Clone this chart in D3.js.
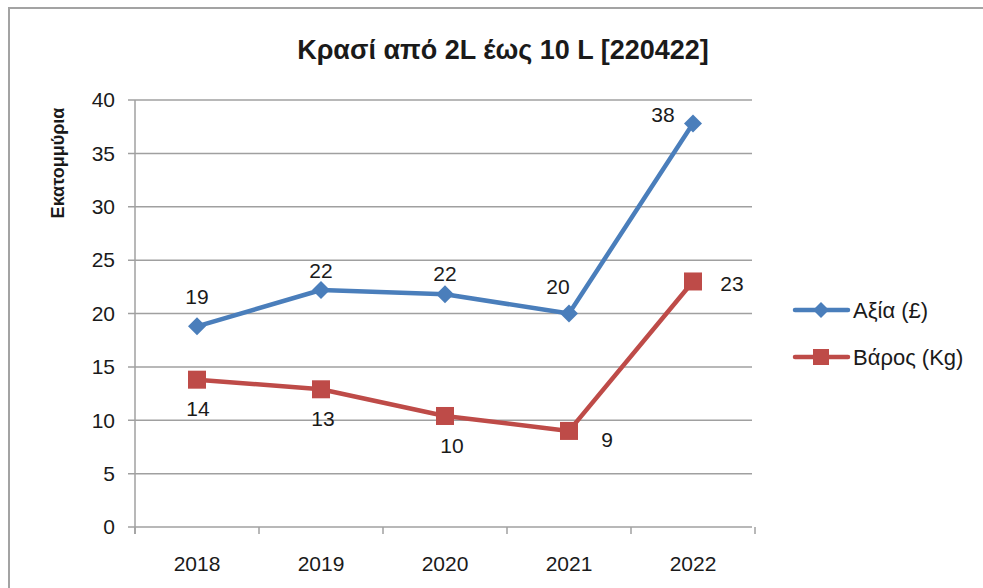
<!DOCTYPE html>
<html>
<head>
<meta charset="utf-8">
<script src="https://cdn.jsdelivr.net/npm/d3@7/dist/d3.min.js"></script>
<style>
  html, body { margin: 0; padding: 0; background: #fff; }
  svg { display: block; }
  text { font-family: "Liberation Sans", Arial, sans-serif; fill: #1a1a1a; }
</style>
</head>
<body>
<svg id="chart" width="983" height="588"></svg>
<script>
const title = "Κρασί από 2L έως 10 L [220422]";
const yAxisTitle = "Εκατομμύρια";
const categories = ["2018", "2019", "2020", "2021", "2022"];
const seriesNames = ["Αξία (£)", "Βάρος (Kg)"];
const valueSeries = [18.8, 22.2, 21.8, 20.0, 37.8];
const weightSeries = [13.8, 12.9, 10.4, 9.0, 23.0];
const valueLabels = ["19", "22", "22", "20", "38"];
const weightLabels = ["14", "13", "10", "9", "23"];
const yTicks = [0, 5, 10, 15, 20, 25, 30, 35, 40];

const colors = ["#4a7ebb", "#be4b48"];
const svg = d3.select("#chart");

// outer border (top & left visible)
svg.append("path")
  .attr("d", "M9,588 L9,8 L983,8")
  .attr("fill", "none").attr("stroke", "#a3a3a3").attr("stroke-width", 2);

const pLeft = 135, pRight = 755, pTop = 100, pBottom = 527;
const x = d3.scaleBand().domain(categories).range([pLeft, pRight]).padding(0);
const y = d3.scaleLinear().domain([0, 40]).range([pBottom, pTop]);

// gridlines
svg.append("g").selectAll("line").data(yTicks).join("line")
  .attr("x1", pLeft - 7).attr("x2", pRight - 3)
  .attr("y1", d => y(d)).attr("y2", d => y(d))
  .attr("stroke", "#a0a0a0").attr("stroke-width", 1.5);

// y axis line
svg.append("line").attr("x1", pLeft).attr("x2", pLeft)
  .attr("y1", pTop).attr("y2", pBottom + 7)
  .attr("stroke", "#a0a0a0").attr("stroke-width", 1.5);

// x tick marks
const xb = categories.map(c => x(c)).concat([pRight]);
svg.append("g").selectAll("line").data(xb).join("line")
  .attr("x1", d => d).attr("x2", d => d)
  .attr("y1", pBottom).attr("y2", pBottom + 7)
  .attr("stroke", "#a0a0a0").attr("stroke-width", 1.5);

// y tick labels
svg.append("g").selectAll("text").data(yTicks).join("text")
  .attr("x", 115).attr("y", d => y(d)).attr("dy", "0.35em")
  .attr("text-anchor", "end").attr("font-size", 21)
  .text(d => d);

// x tick labels
svg.append("g").selectAll("text").data(categories).join("text")
  .attr("x", d => x(d) + x.bandwidth() / 2).attr("y", 564).attr("dy", "0.35em")
  .attr("text-anchor", "middle").attr("font-size", 21)
  .text(d => d);

// title
svg.append("text").attr("x", 503).attr("y", 50).attr("dy", "0.35em")
  .attr("text-anchor", "middle").attr("font-size", 27).attr("font-weight", "bold")
  .text(title);

// y axis title
svg.append("text")
  .attr("transform", "translate(58,163) rotate(-90)")
  .attr("dy", "0.35em").attr("text-anchor", "middle")
  .attr("font-size", 18).attr("font-weight", "bold")
  .text(yAxisTitle);

const cx = c => x(c) + x.bandwidth() / 2;
const line = d3.line().x((d, i) => cx(categories[i])).y(d => y(d));
const diamondPath = "M0,-9 L9,0 L0,9 L-9,0 Z";

// series 1: value
svg.append("path").datum(valueSeries).attr("d", line)
  .attr("fill", "none").attr("stroke", colors[0]).attr("stroke-width", 4.5)
  .attr("stroke-linejoin", "round");
svg.append("g").selectAll("path").data(valueSeries).join("path")
  .attr("d", diamondPath)
  .attr("transform", (d, i) => `translate(${cx(categories[i])},${y(d)})`)
  .attr("fill", colors[0]);

// series 2: weight
svg.append("path").datum(weightSeries).attr("d", line)
  .attr("fill", "none").attr("stroke", colors[1]).attr("stroke-width", 4.5)
  .attr("stroke-linejoin", "round");
svg.append("g").selectAll("rect").data(weightSeries).join("rect")
  .attr("x", (d, i) => cx(categories[i]) - 9).attr("y", d => y(d) - 9)
  .attr("width", 18).attr("height", 18)
  .attr("fill", colors[1]);

// data labels: value series
const vOff = [[0, -30], [0, -19], [0, -21], [-11, -27], [-30, -9]];
svg.append("g").selectAll("text").data(valueSeries).join("text")
  .attr("x", (d, i) => cx(categories[i]) + vOff[i][0])
  .attr("y", (d, i) => y(d) + vOff[i][1]).attr("dy", "0.35em")
  .attr("text-anchor", "middle").attr("font-size", 21)
  .text((d, i) => valueLabels[i]);

// data labels: weight series
const wOff = [[1, 29], [2, 29], [7, 30], [38, 9], [39, 2]];
svg.append("g").selectAll("text").data(weightSeries).join("text")
  .attr("x", (d, i) => cx(categories[i]) + wOff[i][0])
  .attr("y", (d, i) => y(d) + wOff[i][1]).attr("dy", "0.35em")
  .attr("text-anchor", "middle").attr("font-size", 21)
  .text((d, i) => weightLabels[i]);

// legend
const legend = svg.append("g");
const ly = [310, 357];
seriesNames.forEach((name, i) => {
  const g = legend.append("g").attr("transform", `translate(0,${ly[i]})`);
  g.append("line").attr("x1", 795).attr("x2", 848).attr("y1", 0).attr("y2", 0)
    .attr("stroke", colors[i]).attr("stroke-width", 4.5).attr("stroke-linecap", "round");
  if (i === 0) {
    g.append("path").attr("d", "M0,-8 L8,0 L0,8 L-8,0 Z")
      .attr("transform", "translate(821,0)").attr("fill", colors[i]);
  } else {
    g.append("rect").attr("x", 813).attr("y", -8).attr("width", 16).attr("height", 16)
      .attr("fill", colors[i]);
  }
  g.append("text").attr("x", 853).attr("y", 0).attr("dy", "0.35em")
    .attr("font-size", 22).text(name);
});
</script>
</body>
</html>
